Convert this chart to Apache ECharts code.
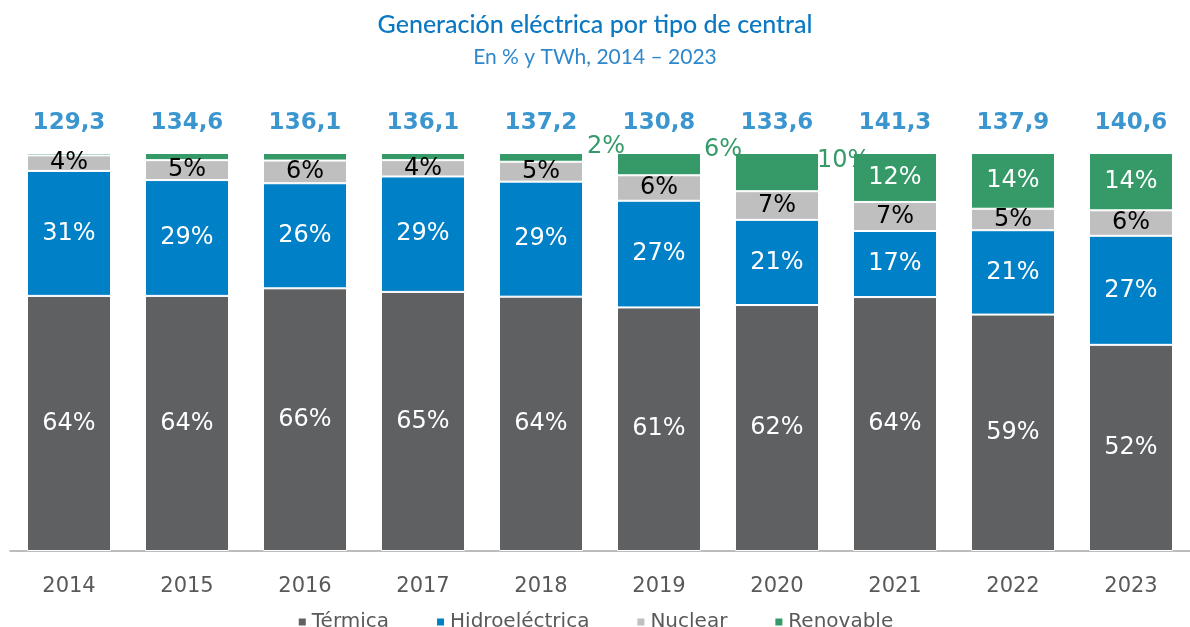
<!DOCTYPE html>
<html>
<head>
<meta charset="utf-8">
<script src="https://cdn.jsdelivr.net/npm/echarts@6/dist/echarts.min.js"></script>
<style>
  html, body {margin: 0; padding: 0; background: #fff;}
  #chart {width: 1190px; height: 627px;}
</style>
</head>
<body>
<div id="chart"></div>
<script>
const years = ['2014', '2015', '2016', '2017', '2018', '2019', '2020', '2021', '2022', '2023']
const totals = ['129,3', '134,6', '136,1', '136,1', '137,2', '130,8', '133,6', '141,3', '137,9', '140,6']
const termica = [64.1, 64.1, 66.0, 65.1, 63.9, 61.2, 61.8, 63.8, 59.4, 51.8]
const hidro = [31.4, 29.1, 26.4, 29.0, 28.9, 26.8, 21.4, 16.6, 21.2, 27.4]
const nuclear = [3.9, 5.0, 5.7, 4.1, 5.0, 6.4, 7.2, 7.3, 5.4, 6.4]
const renovable = [0.6, 1.8, 1.9, 1.8, 2.2, 5.6, 9.6, 12.3, 14.0, 14.4]

const labelFont = 'DejaVu Sans'
const pct = p => Math.round(p.value) + '%'

// small green shares: labels pushed out beside the bar, none for the thinnest ones
const outsideLabel = {
  4: [88, -6],
  5: [87, -3],
  6: [82, 8]
}
const renovableData = renovable.map((v, i) => {
  if (i < 4) return {value: v, label: {show: false}}
  if (outsideLabel[i]) {
    return {
      value: v,
      label: {
        show: true, position: outsideLabel[i], align: 'left', verticalAlign: 'middle',
        color: '#359a68'
      }
    }
  }
  return v
})

const chart = echarts.init(document.getElementById('chart'))

const segment = (name, data, color, textColor) => ({
  name,
  type: 'bar',
  stack: 'total',
  barWidth: 84,
  data,
  itemStyle: {color, borderColor: '#fff', borderWidth: 1},
  label: {
    show: true, formatter: pct, color: textColor,
    fontFamily: labelFont, fontSize: 24
  }
})

chart.setOption({
  animation: false,
  title: {
    text: 'Generación eléctrica por tipo de central',
    subtext: 'En % y TWh, 2014 – 2023',
    left: 'center',
    top: 7,
    itemGap: 10,
    textStyle: {fontFamily: 'Lato', fontSize: 25, fontWeight: 500, color: '#0a78c2'},
    subtextStyle: {fontFamily: 'Lato', fontSize: 21, color: '#2f88cc'}
  },
  legend: {
    top: 607,
    left: 'center',
    icon: 'rect',
    itemWidth: 9,
    itemHeight: 9,
    itemGap: 46,
    textStyle: {fontFamily: labelFont, fontSize: 20, color: '#595959'},
    data: ['Térmica', 'Hidroeléctrica', 'Nuclear', 'Renovable']
  },
  grid: {left: 10, top: 153, width: 1188, height: 398},
  xAxis: {
    type: 'category',
    data: years,
    axisTick: {show: false},
    axisLine: {lineStyle: {color: '#a6a6a6', width: 1.5}},
    axisLabel: {fontFamily: labelFont, fontSize: 21, color: '#595959', margin: 25}
  },
  yAxis: {type: 'value', min: 0, max: 100, show: false, splitLine: {show: false}},
  series: [
    segment('Térmica', termica, '#5f6062', '#fff'),
    segment('Hidroeléctrica', hidro, '#0080c6', '#fff'),
    segment('Nuclear', nuclear, '#bfbfbf', '#000'),
    segment('Renovable', renovableData, '#359a68', '#fff'),
    {
      name: 'Total',
      type: 'scatter',
      symbolSize: 0,
      data: totals.map(() => 100),
      label: {
        show: true, position: 'top', distance: 18,
        formatter: p => totals[p.dataIndex],
        fontFamily: labelFont, fontSize: 23, fontWeight: 'bold', color: '#0a7cc4'
      }
    }
  ]
})
</script>
</body>
</html>
